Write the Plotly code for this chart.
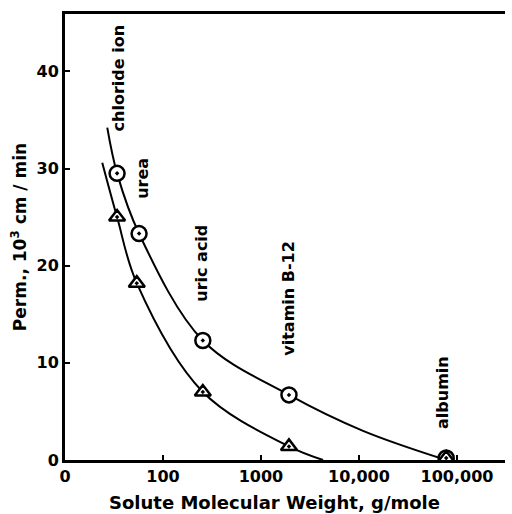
import math
import plotly.graph_objects as go

# Data
compounds = ["chloride ion", "urea", "uric acid", "vitamin B-12", "albumin"]
mol_weight = [34, 57, 255, 1930, 77600]
perm_circle = [29.5, 23.3, 12.3, 6.7, 0.2]
tri_weight = [34, 54, 255, 1930, 77600]
perm_triangle = [25.0, 18.2, 7.0, 1.4, 0.2]

# fitted curves
curve_c_x = [27, 34, 57, 255, 1930, 11000, 77600]
curve_c_y = [34.2, 29.5, 23.3, 12.3, 6.7, 3.0, 0.0]
curve_t_x = [24, 34, 54, 255, 1930, 4300]
curve_t_y = [30.6, 25.0, 18.2, 7.0, 1.4, 0.0]

# label positions (x in MW, y in perm units at label centre)
label_x = [35, 62, 250, 1930, 72000]
label_y = [39.3, 29.0, 20.3, 16.7, 6.9]

tick_vals = [10, 100, 1000, 10000, 100000]
tick_text = ["0", "100", "1000", "10,000", "100,000"]

FONT = "DejaVu Sans"
fig = go.Figure()
fig.add_trace(go.Scatter(x=curve_c_x, y=curve_c_y, mode="lines",
                         line=dict(color="black", width=2, shape="spline", smoothing=1.0),
                         hoverinfo="skip"))
fig.add_trace(go.Scatter(x=curve_t_x, y=curve_t_y, mode="lines",
                         line=dict(color="black", width=2, shape="spline", smoothing=1.0),
                         hoverinfo="skip"))
fig.add_trace(go.Scatter(x=mol_weight, y=perm_circle, mode="markers",
                         marker=dict(symbol="circle-dot", size=15, color="white",
                                     line=dict(color="black", width=2.5)),
                         cliponaxis=True))
fig.add_trace(go.Scatter(x=tri_weight, y=perm_triangle, mode="markers",
                         marker=dict(symbol="triangle-up-dot", size=14, color="white",
                                     line=dict(color="black", width=2.5)),
                         cliponaxis=True))

for name, lx, ly in zip(compounds, label_x, label_y):
    fig.add_annotation(x=math.log10(lx), y=ly, xref="x", yref="y",
                       text="<b>" + name + "</b>",
                       showarrow=False, textangle=-90,
                       font=dict(family=FONT, size=16, color="black"))

fig.add_annotation(x=0.475, y=0, xref="paper", yref="paper", yshift=-42,
                   xanchor="center", yanchor="middle", showarrow=False,
                   text="<b>Solute Molecular Weight, g/mole</b>",
                   font=dict(family=FONT, size=18, color="black"))

fig.update_layout(
    width=512, height=514,
    margin=dict(l=65, r=7, t=14, b=54),
    paper_bgcolor="white", plot_bgcolor="white",
    showlegend=False,
    font=dict(family=FONT, color="black"),
)
fig.update_xaxes(type="log", range=[1, 5.49], tickvals=tick_vals, ticktext=tick_text,
                 showgrid=False, zeroline=False, showline=True, linecolor="black",
                 linewidth=3, mirror=True, ticks="inside", ticklen=5, tickwidth=2,
                 tickcolor="black",
                 tickfont=dict(family=FONT, size=16, color="black", weight="bold"))
fig.update_yaxes(range=[0, 45.9], tickvals=[0, 10, 20, 30, 40],
                 showgrid=False, zeroline=False, showline=True, linecolor="black",
                 linewidth=3, ticks="inside", ticklen=5, tickwidth=2, tickcolor="black",
                 tickfont=dict(family=FONT, size=16, color="black", weight="bold"),
                 title=dict(text="<b>Perm., 10<sup>3</sup> cm / min</b>",
                            font=dict(family=FONT, size=17, color="black"), standoff=6))

fig.write_html("out.html")
